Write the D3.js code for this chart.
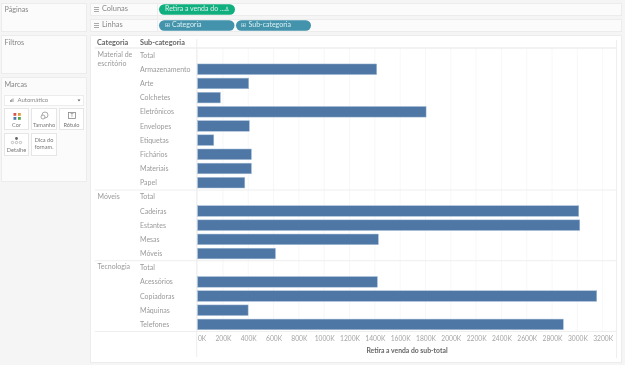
<!DOCTYPE html>
<html>
<head>
<meta charset="utf-8">
<script src="https://cdn.jsdelivr.net/npm/d3@7"></script>
<style>
html,body{margin:0;padding:0;background:#f5f5f5;overflow:hidden}
svg{display:block;filter:blur(0.45px)}
text{font-family:Lato,"Open Sans",sans-serif}
</style>
</head>
<body>
<svg id="c" width="625" height="365"></svg>
<script>
const categories = ["Material de escritório", "Móveis", "Tecnologia"];
const materialSubs = ["Total","Armazenamento","Arte","Colchetes","Eletrônicos","Envelopes","Etiquetas","Fichários","Materiais","Papel"];
const materialVals = [null,1415,404,180,1805,409,128,425,425,373];
const moveisSubs = ["Total","Cadeiras","Estantes","Mesas","Móveis"];
const moveisVals = [null,3011,3019,1428,615];
const tecnoSubs = ["Total","Acessórios","Copiadoras","Máquinas","Telefones"];
const tecnoVals = [null,1420,3153,399,2889];
const xTicks = d3.range(0,3201,200);
const axisTitle = "Retira a venda do sub-total";
const cardLabels = [["Cor","Tamanho","Rótulo"],["Detalhe","Dica do|fornam."]];

const svg = d3.select("#c");
const rows = [];
[[materialSubs,materialVals],[moveisSubs,moveisVals],[tecnoSubs,tecnoVals]].forEach(([s,v],g)=>
  s.forEach((n,i)=>rows.push({key:g+"-"+i,g,name:n,val:v[i],first:i===0})));

const x = d3.scaleLinear().domain([0,3200]).range([197.6,602.7]);
const y = d3.scaleBand().domain(rows.map(d=>d.key)).range([48,331.5]).paddingInner(0.25).paddingOuter(0.125);
const rowC = k => y(k)+y.bandwidth()/2;

const txt="#9a9a9a", dark="#666", line="#eeeeee";
function panel(px,py,w,h,fill){svg.append("rect").attr("x",px).attr("y",py).attr("width",w).attr("height",h).attr("fill",fill||"#fbfbfb").attr("stroke","#ececec");}
function label(t,px,py,o={}){return svg.append("text").attr("x",px).attr("y",py).attr("font-size",o.s||7.2).attr("fill",o.c||txt).attr("font-weight",o.w||400).attr("text-anchor",o.a||"start").attr("dominant-baseline","middle").text(t);}

// side panels
panel(1.5,3.5,85,28);  label("Páginas",4.5,10.5,{s:7.2,c:"#888"});
panel(1.5,35.5,85,38); label("Filtros",4.5,43,{s:7.2,c:"#888"});
panel(1.5,77.5,85,104); label("Marcas",4.5,85,{s:7.2,c:"#888"});
panel(4.5,95.5,79,10,"#fff");
label("Automático",17.5,100.5,{s:6,c:"#888"});
svg.append("g").attr("fill","#888").selectAll("rect").data([0,1,2]).join("rect")
  .attr("x",d=>10+d*1.3).attr("y",d=>100-d*0.8).attr("width",0.8).attr("height",d=>2+d*0.8);
svg.append("path").attr("d","M77.5 99.5h3l-1.5 2z").attr("fill","#666");

// mark cards
const cards=[[4.5,108.5,24,21],[31.5,108.5,25,21],[59.5,108.5,24,21],[4.5,133.5,24,22],[31.5,133.5,25,22]];
cards.forEach(c=>svg.append("rect").attr("x",c[0]).attr("y",c[1]).attr("width",c[2]).attr("height",c[3]).attr("fill","#fff").attr("stroke","#e6e6e6"));
label(cardLabels[0][0],16.5,125.5,{s:5.6,a:"middle",c:"#777"});
label(cardLabels[0][1],44,125.5,{s:5.6,a:"middle",c:"#777"});
label(cardLabels[0][2],71.5,125.5,{s:5.6,a:"middle",c:"#777"});
label(cardLabels[1][0],16.5,151,{s:5.6,a:"middle",c:"#777"});
cardLabels[1][1].split("|").forEach((t,i)=>label(t,44,140.5+i*7,{s:5.6,a:"middle",c:"#777"}));
// card icons
[["#d9534f",13.5,113],["#e8973a",18,113],["#4e79a7",13.5,117],["#59a14f",18,117]].forEach(d=>
  svg.append("rect").attr("x",d[1]).attr("y",d[2]).attr("width",2.8).attr("height",2.8).attr("fill",d[0]));
svg.append("circle").attr("cx",45).attr("cy",115).attr("r",3).attr("fill","none").attr("stroke","#888").attr("stroke-width",.7);
svg.append("circle").attr("cx",43).attr("cy",117).attr("r",2).attr("fill","#fff").attr("stroke","#888").attr("stroke-width",.7);
svg.append("rect").attr("x",68.5).attr("y",112.5).attr("width",7).attr("height",6).attr("fill","none").attr("stroke","#888").attr("stroke-width",.8);
label("T",72,115.8,{s:5,a:"middle",c:"#777"});
svg.append("circle").attr("cx",16.5).attr("cy",138.5).attr("r",1.4).attr("fill","#666");
[12.5,16.5,20.5].forEach(cx=>svg.append("circle").attr("cx",cx).attr("cy",142.5).attr("r",1.2).attr("fill","none").attr("stroke","#888").attr("stroke-width",.5));

// shelves
panel(90.5,3.5,531,12); panel(90.5,19.5,531,12);
[[9.5,"Colunas"],[25.5,"Linhas"]].forEach(([yy,t])=>{
  svg.append("g").attr("fill","#aaa").selectAll("rect").data([-2,0,2]).join("rect")
    .attr("x",94).attr("y",d=>yy-0.5+d).attr("width",5).attr("height",1);
  label(t,102,yy,{s:7.4,c:"#888"});
});
svg.append("line").attr("x1",157.5).attr("x2",157.5).attr("y1",3.5).attr("y2",31.5).attr("stroke","#ececec");
function pill(px,py,w,fill,t,ix,icon,iconX){
  svg.append("rect").attr("x",px).attr("y",py).attr("width",w).attr("height",10.5).attr("rx",5.2).attr("fill",fill);
  label(t,ix,py+5.4,{s:7,c:"#dcefef"});
  label(icon,iconX,py+5.4,{s:6,c:"#dcefef",a:"middle"});
}
pill(159,4.2,76,"#10b07e","Retira a venda do ...",165,"\u2206",227);
pill(159,20.3,75.5,"#4393ac","Categoria",172,"\u229e",167);
pill(236,20.3,75,"#4393ac","Sub-categoria",248.5,"\u229e",243.5);

// main pane
svg.append("rect").attr("x",90.5).attr("y",35.5).attr("width",531).attr("height",327).attr("fill","#fff").attr("stroke","#ececec");

// gridlines
svg.append("g").selectAll("line").data(xTicks).join("line")
  .attr("x1",d=>x(d)).attr("x2",d=>x(d)).attr("y1",48).attr("y2",331.5)
  .attr("stroke","#f5f5f5").attr("stroke-width",.8);
svg.append("line").attr("x1",196.7).attr("x2",196.7).attr("y1",39).attr("y2",357).attr("stroke","#eeeeee");
svg.append("line").attr("x1",616.5).attr("x2",616.5).attr("y1",40).attr("y2",358).attr("stroke","#eeeeee");

// separators
[48,190,260.7,331.5].forEach(yy=>svg.append("line").attr("x1",95).attr("x2",617).attr("y1",yy).attr("y2",yy).attr("stroke",line).attr("stroke-width",yy===48?1.6:1));

// headers
label("Categoria",97,43.5,{s:7.3,c:dark,w:700});
label("Sub-categoria",140,43.5,{s:7.3,c:dark,w:700});

// category labels
const cat0=categories[0].split(" ");
label(cat0[0]+" "+cat0[1],97.5,55,{s:7});
label(cat0[2],97.5,64,{s:7});
label(categories[1],97.5,197,{s:7});
label(categories[2],97.5,267.7,{s:7});

// row labels
svg.append("g").selectAll("text").data(rows).join("text")
  .attr("x",140).attr("y",d=>rowC(d.key)+0.8).attr("dominant-baseline","middle")
  .attr("font-size",7).attr("fill",txt).text(d=>d.name);

// bars
svg.append("g").selectAll("rect").data(rows.filter(d=>d.val!=null)).join("rect")
  .attr("x",x(0)).attr("y",d=>y(d.key)).attr("width",d=>x(d.val)-x(0)).attr("height",y.bandwidth())
  .attr("fill","#4e77a5").attr("stroke","#a9c0da").attr("stroke-width",.5);

// axis
const ax = d3.axisBottom(x).tickValues(xTicks).tickFormat(d=>d+"K").tickSize(0).tickPadding(0);
const g = svg.append("g").attr("transform","translate(0,334)").call(ax);
g.select(".domain").remove();
g.selectAll("text").attr("font-size",6.7).attr("fill","#a5a5a5").attr("font-family","Lato,sans-serif")
  .attr("dy",0).attr("y",5.5).attr("dominant-baseline","middle")
  .attr("dx",d=>d===0?4:0);
label(axisTitle,407,350.9,{s:6.8,c:dark,w:700,a:"middle"});
</script>
</body>
</html>
